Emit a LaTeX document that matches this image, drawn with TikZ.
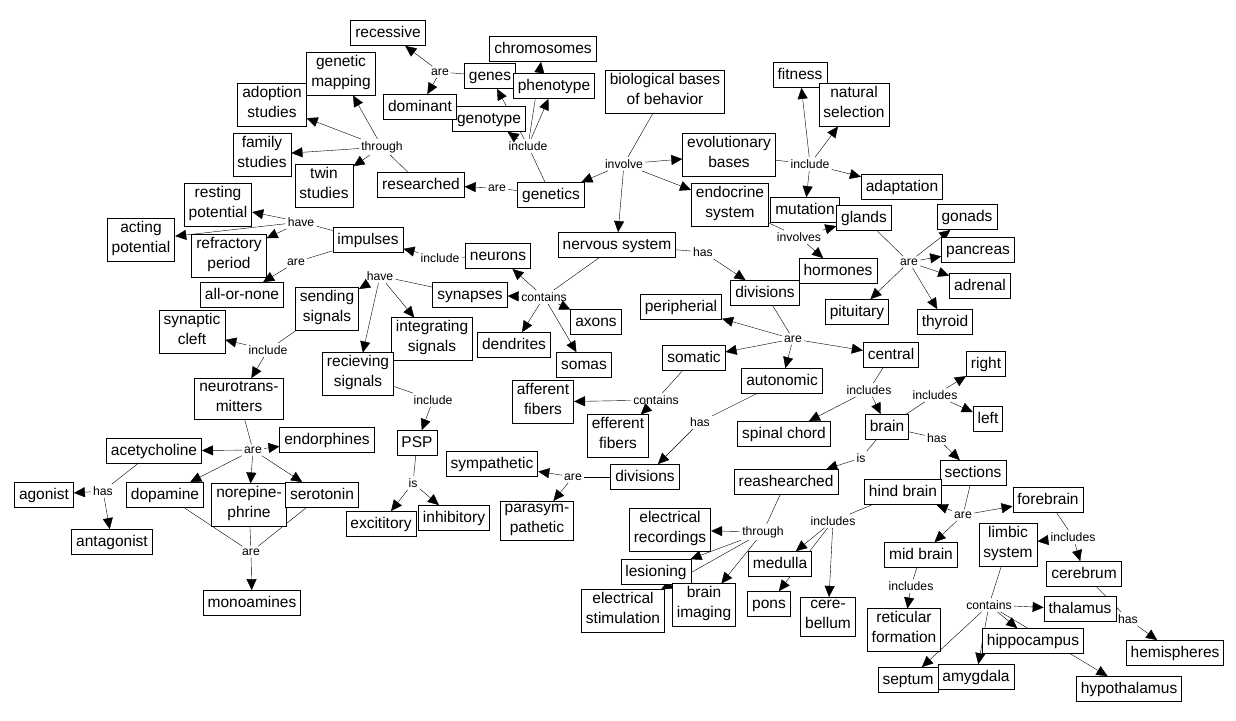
\documentclass[tikz,border=0pt]{standalone}
\usepackage{fontspec}
\setmainfont{Liberation Sans}
\usetikzlibrary{arrows.meta,backgrounds}
\tikzset{
  concept/.style={draw, fill=white, align=center, font=\fontsize{15.5}{20}\selectfont,
    inner xsep=4.5pt, inner ysep=2.5pt, execute at begin node=\strut, execute at end node=\strut},
  link/.style={font=\fontsize{12.2}{14}\selectfont, inner sep=2pt},
}
\begin{document}
\begin{tikzpicture}[x=1pt, y=-1pt, line width=0.8pt, >={Triangle[length=11pt,width=10pt]}]
      \useasboundingbox (0,0) rectangle (1236,720);
      \path
        (665,92) node[concept] (bio){biological bases\\of behavior}
        (551,195) node[concept] (genetics){genetics}
        (729,155) node[concept] (evol){evolutionary\\bases}
        (730,205) node[concept] (endo){endocrine\\system}
        (617,245) node[concept] (nervous){nervous system}
        (421,185) node[concept] (researched){researched}
        (272,105) node[concept] (adoption){adoption\\studies}
        (341,74) node[concept] (mapping){genetic\\mapping}
        (262,155) node[concept] (family){family\\studies}
        (324,186) node[concept] (twin){twin\\studies}
        (490,76) node[concept] (genes){genes}
        (543,49) node[concept] (chromo){chromosomes}
        (489,119) node[concept] (geno){genotype}
        (554,86) node[concept] (pheno){phenotype}
        (388,33) node[concept] (recessive){recessive}
        (420,107) node[concept] (dominant){dominant}
        (800,75) node[concept] (fitness){fitness}
        (854,105) node[concept] (natural){natural\\selection}
        (902,187) node[concept] (adaptation){adaptation}
        (805,210) node[concept] (mutation){mutation}
        (864,218) node[concept] (glands){glands}
        (838,271) node[concept] (hormones){hormones}
        (967,217) node[concept] (gonads){gonads}
        (978,250) node[concept] (pancreas){pancreas}
        (980,286) node[concept] (adrenal){adrenal}
        (945,322) node[concept] (thyroid){thyroid}
        (857,312) node[concept] (pituitary){pituitary}
        (765,293) node[concept] (divisions){divisions}
        (681,307) node[concept] (peripherial){peripherial}
        (694,358) node[concept] (somatic){somatic}
        (891,355) node[concept] (central){central}
        (782,381) node[concept] (autonomic){autonomic}
        (543,402) node[concept] (afferent){afferent\\fibers}
        (618,436) node[concept] (efferent){efferent\\fibers}
        (645,477) node[concept] (divisionsb){divisions}
        (492,464) node[concept] (sympathetic){sympathetic}
        (537,521) node[concept] (parasym){parasym-\\pathetic}
        (784,434) node[concept] (spinal){spinal chord}
        (887,427) node[concept] (brain){brain}
        (986,364) node[concept] (right){right}
        (988,419) node[concept] (left){left}
        (973,473) node[concept] (sections){sections}
        (786,482) node[concept] (reash){reashearched}
        (670,530) node[concept] (recordings){electrical\\recordings}
        (623,611) node[concept] (stimulation){electrical\\stimulation}
        (656,572) node[concept] (lesioning){lesioning}
        (704,605) node[concept] (imaging){brain\\imaging}
        (903,492) node[concept] (hind){hind brain}
        (780,564) node[concept] (medulla){medulla}
        (769,604) node[concept] (pons){pons}
        (828,617) node[concept] (cerebellum){cere-\\bellum}
        (921,555) node[concept] (mid){mid brain}
        (1048,500) node[concept] (fore){forebrain}
        (1008,545) node[concept] (limbic){limbic\\system}
        (1084,574) node[concept] (cerebrum){cerebrum}
        (904,630) node[concept] (reticular){reticular\\formation}
        (1080,609) node[concept] (thalamus){thalamus}
        (1033,641) node[concept] (hippocampus){hippocampus}
        (908,680) node[concept] (septum){septum}
        (976,677) node[concept] (amygdala){amygdala}
        (1129,689) node[concept] (hypothalamus){hypothalamus}
        (1175,653) node[concept] (hemispheres){hemispheres}
        (498,256) node[concept] (neurons){neurons}
        (368,240) node[concept] (impulses){impulses}
        (218,205) node[concept] (resting){resting\\potential}
        (141,240) node[concept] (acting){acting\\potential}
        (229,256) node[concept] (refractory){refractory\\period}
        (242,295) node[concept] (allornone){all-or-none}
        (470,295) node[concept] (synapses){synapses}
        (514,345) node[concept] (dendrites){dendrites}
        (584,365) node[concept] (somas){somas}
        (596,322) node[concept] (axons){axons}
        (327,309) node[concept] (sending){sending\\signals}
        (432,339) node[concept] (integrating){integrating\\signals}
        (358,374) node[concept] (recieving){recieving\\signals}
        (192,332) node[concept] (cleft){synaptic\\cleft}
        (239,399) node[concept] (neurotrans){neurotrans-\\mitters}
        (417,443) node[concept] (psp){PSP}
        (381,524) node[concept] (excititory){excititory}
        (454,518) node[concept] (inhibitory){inhibitory}
        (154,451) node[concept] (acetyl){acetycholine}
        (327,440) node[concept] (endorphines){endorphines}
        (165,495) node[concept] (dopamine){dopamine}
        (249,505) node[concept] (norepi){norepine-\\phrine}
        (322,495) node[concept] (serotonin){serotonin}
        (44,495) node[concept] (agonist){agonist}
        (112,542) node[concept] (antagonist){antagonist}
        (252,603) node[concept] (monoamines){monoamines};
      \path
        (624,164) node[link] (involve){involve}
        (497,188) node[link] (genAre){are}
        (382,147) node[link] (resThrough){through}
        (528,146) node[link] (genInclude){include}
        (440,72) node[link] (genesAre){are}
        (810,164) node[link] (evolInclude){include}
        (799,237) node[link] (endoInvolves){involves}
        (909,262) node[link] (glandsAre){are}
        (703,252) node[link] (nervHas){has}
        (544,297) node[link] (nervContains){contains}
        (793,339) node[link] (divAre){are}
        (656,400) node[link] (somContains){contains}
        (700,422) node[link] (autoHas){has}
        (573,477) node[link] (divbAre){are}
        (869,390) node[link] (centIncludes){includes}
        (935,395) node[link] (brainIncludes){includes}
        (937,438) node[link] (brainHas){has}
        (861,458) node[link] (brainIs){is}
        (763,532) node[link] (reashThrough){through}
        (833,521) node[link] (hindIncludes){includes}
        (963,515) node[link] (sectAre){are}
        (1073,537) node[link] (foreIncludes){includes}
        (911,586) node[link] (midIncludes){includes}
        (989,605) node[link] (limbContains){contains}
        (1128,619) node[link] (cerebHas){has}
        (440,258) node[link] (neurInclude){include}
        (301,222) node[link] (impHave){have}
        (296,262) node[link] (impAre){are}
        (380,276) node[link] (synHave){have}
        (268,350) node[link] (sendInclude){include}
        (433,400) node[link] (recInclude){include}
        (413,483) node[link] (pspIs){is}
        (253,450) node[link] (ntAre){are}
        (103,491) node[link] (achHas){has}
        (251,552) node[link] (monoAre){are};
      \begin{scope}[on background layer]
        \fill[white] (0,0) rectangle (1236,720);
        \draw (bio) to (involve);
        \draw[->] (involve) to (genetics);
        \draw[->] (involve) to (evol);
        \draw[->] (involve) to (endo);
        \draw[->] (involve) to (nervous);
        \draw (genetics) to (genAre);
        \draw[->] (genAre) to (researched);
        \draw (researched) to (resThrough);
        \draw[->] (resThrough) to (adoption);
        \draw[->] (resThrough) to (mapping);
        \draw[->] (resThrough) to (family);
        \draw[->] (resThrough) to (twin);
        \draw (genetics) to (genInclude);
        \draw[->] (genInclude) to (genes);
        \draw[->] (genInclude) to (chromo);
        \draw[->] (genInclude) to (pheno);
        \draw[->] (genInclude) to (geno);
        \draw (genes) to (genesAre);
        \draw[->] (genesAre) to (recessive);
        \draw[->] (genesAre) to (dominant);
        \draw (evol) to (evolInclude);
        \draw[->] (evolInclude) to (fitness);
        \draw[->] (evolInclude) to (natural);
        \draw[->] (evolInclude) to (adaptation);
        \draw[->] (evolInclude) to (mutation);
        \draw (endo) to (endoInvolves);
        \draw[->] (endoInvolves) to (glands);
        \draw[->] (endoInvolves) to (hormones);
        \draw (glands) to (glandsAre);
        \draw[->] (glandsAre) to (gonads);
        \draw[->] (glandsAre) to (pancreas);
        \draw[->] (glandsAre) to (adrenal);
        \draw[->] (glandsAre) to (thyroid);
        \draw[->] (glandsAre) to (pituitary);
        \draw (nervous) to (nervHas);
        \draw[->] (nervHas) to (divisions);
        \draw (nervous) to (nervContains);
        \draw[->] (nervContains) to (neurons);
        \draw[->] (nervContains) to (synapses);
        \draw[->] (nervContains) to (dendrites);
        \draw[->] (nervContains) to (somas);
        \draw[->] (nervContains) to (axons);
        \draw (divisions) to (divAre);
        \draw[->] (divAre) to (peripherial);
        \draw[->] (divAre) to (somatic);
        \draw[->] (divAre) to (central);
        \draw[->] (divAre) to (autonomic);
        \draw (somatic) to (somContains);
        \draw[->] (somContains) to (afferent);
        \draw[->] (somContains) to (efferent);
        \draw (autonomic) to (autoHas);
        \draw[->] (autoHas) to (divisionsb);
        \draw (divisionsb) to (divbAre);
        \draw[->] (divbAre) to (sympathetic);
        \draw[->] (divbAre) to (parasym);
        \draw (central) to (centIncludes);
        \draw[->] (centIncludes) to (spinal);
        \draw[->] (centIncludes) to (brain);
        \draw (brain) to (brainIncludes);
        \draw[->] (brainIncludes) to (right);
        \draw[->] (brainIncludes) to (left);
        \draw (brain) to (brainHas);
        \draw[->] (brainHas) to (sections);
        \draw (brain) to (brainIs);
        \draw[->] (brainIs) to (reash);
        \draw (reash) to (reashThrough);
        \draw[->] (reashThrough) to (recordings);
        \draw[->] (reashThrough) to (lesioning);
        \draw[->] (reashThrough) to (imaging);
        \draw[->] (reashThrough) to (stimulation);
        \draw (hind) to (hindIncludes);
        \draw[->] (hindIncludes) to (medulla);
        \draw[->] (hindIncludes) to (pons);
        \draw[->] (hindIncludes) to (cerebellum);
        \draw (sections) to (sectAre);
        \draw[->] (sectAre) to (hind);
        \draw[->] (sectAre) to (mid);
        \draw[->] (sectAre) to (fore);
        \draw (fore) to (foreIncludes);
        \draw[->] (foreIncludes) to (limbic);
        \draw[->] (foreIncludes) to (cerebrum);
        \draw (mid) to (midIncludes);
        \draw[->] (midIncludes) to (reticular);
        \draw (limbic) to (limbContains);
        \draw[->] (limbContains) to (thalamus);
        \draw[->] (limbContains) to (hippocampus);
        \draw[->] (limbContains) to (septum);
        \draw[->] (limbContains) to (amygdala);
        \draw[->] (limbContains) to (hypothalamus);
        \draw (cerebrum) to (cerebHas);
        \draw[->] (cerebHas) to (hemispheres);
        \draw (neurons) to (neurInclude);
        \draw[->] (neurInclude) to (impulses);
        \draw (impulses) to (impHave);
        \draw[->] (impHave) to (resting);
        \draw[->] (impHave) to (acting);
        \draw[->] (impHave) to (refractory);
        \draw (impulses) to (impAre);
        \draw[->] (impAre) to (allornone);
        \draw (synapses) to (synHave);
        \draw[->] (synHave) to (sending);
        \draw[->] (synHave) to (integrating);
        \draw[->] (synHave) to (recieving);
        \draw (sending) to (sendInclude);
        \draw[->] (sendInclude) to (cleft);
        \draw[->] (sendInclude) to (neurotrans);
        \draw (recieving) to (recInclude);
        \draw[->] (recInclude) to (psp);
        \draw (psp) to (pspIs);
        \draw[->] (pspIs) to (excititory);
        \draw[->] (pspIs) to (inhibitory);
        \draw (neurotrans) to (ntAre);
        \draw[->] (ntAre) to (acetyl);
        \draw[->] (ntAre) to (endorphines);
        \draw[->] (ntAre) to (dopamine);
        \draw[->] (ntAre) to (norepi);
        \draw[->] (ntAre) to (serotonin);
        \draw (acetyl) to (achHas);
        \draw[->] (achHas) to (agonist);
        \draw[->] (achHas) to (antagonist);
        \draw (dopamine) to (monoAre);
        \draw (norepi) to (monoAre);
        \draw (serotonin) to (monoAre);
        \draw[->] (monoAre) to (monoamines);
      \end{scope}
    \end{tikzpicture}
\end{document}
